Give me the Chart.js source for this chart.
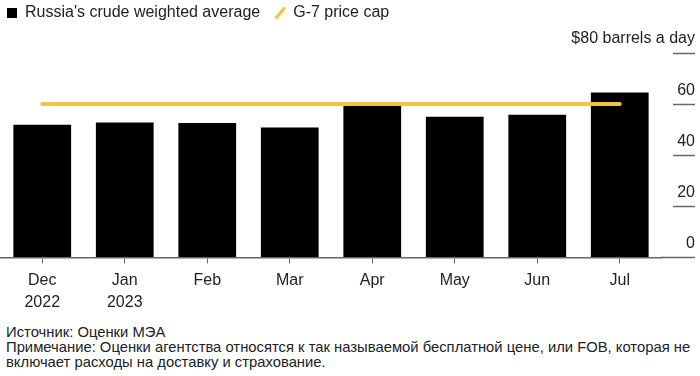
<!DOCTYPE html>
<html>
<head>
<meta charset="utf-8">
<script src="https://cdn.jsdelivr.net/npm/chart.js@4"></script>
<style>
  body { margin: 0; background: #fff; font-family: "Liberation Sans", Arial, sans-serif; color: #222; }
  .wrap { width: 700px; height: 320px; position: relative; }
  .notes { margin: 5px 0 0 6px; font-size: 14.8px; line-height: 15px; color: #222; }
</style>
</head>
<body>
<div class="wrap"><canvas id="chart"></canvas></div>
<div class="notes">
  <div>Источник: Оценки МЭА</div>
  <div>Примечание: Оценки агентства относятся к так называемой бесплатной цене, или FOB, которая не включает расходы на доставку и страхование.</div>
</div>
<script>
const months = [["Dec", "2022"], ["Jan", "2023"], "Feb", "Mar", "Apr", "May", "Jun", "Jul"];
const russiaAvg = [51.9, 52.8, 52.6, 50.8, 59.3, 55.1, 55.8, 64.5];
const priceCap = [60, 60, 60, 60, 60, 60, 60, 60];
const yTicks = [0, 20, 40, 60, 80];
const yTopLabel = "$80 barrels a day";

const capColor = "#f4c33f";
const font = { family: "'Liberation Sans', Arial, sans-serif", size: 16 };

// legend: fixed height so the plot starts lower, and nudged up/left
// (labels.padding is wide to space the two items apart)
const legendTweak = {
  id: "legendTweak",
  beforeInit(chart) {
    const fit = chart.legend.fit;
    chart.legend.fit = function () {
      fit.bind(chart.legend)();
      this.height = 53;
    };
  },
  afterLayout(chart) {
    chart.legend.left -= 9;
    chart.legend.top -= 10;
  },
};

new Chart(document.getElementById("chart"), {
  type: "bar",
  data: {
    labels: months,
    datasets: [
      {
        label: "Russia's crude weighted average",
        data: russiaAvg,
        backgroundColor: "#000",
        borderWidth: 0,
        barPercentage: 0.7,
        categoryPercentage: 1,
        pointStyle: "rect",
        order: 1,
      },
      {
        type: "line",
        label: "G-7 price cap",
        data: priceCap,
        borderColor: capColor,
        borderWidth: 4,
        borderCapStyle: "round",
        pointRadius: 0,
        pointStyle: "line",
        pointRotation: -50,
        pointBorderColor: capColor,
        pointBorderWidth: 3,
        order: 0,
      },
    ],
  },
  options: {
    responsive: true,
    maintainAspectRatio: false,
    animation: false,
    events: [],
    layout: { padding: { left: 1, right: 5, top: 0 } },
    plugins: {
      tooltip: { enabled: false },
      legend: {
        position: "top",
        align: "start",
        labels: {
          usePointStyle: true,
          boxWidth: 10,
          boxHeight: 10,
          padding: 15,
          color: "#222",
          font,
          sort: (a, b) => a.datasetIndex - b.datasetIndex,
        },
      },
    },
    scales: {
      x: {
        border: { display: true, color: "#666", width: 1.5 },
        grid: { drawOnChartArea: false, offset: false, tickLength: 6, tickColor: "#666", tickWidth: 1 },
        ticks: { color: "#222", font: { ...font, lineHeight: 1.33 }, padding: 7, maxRotation: 0, autoSkip: false },
      },
      y: {
        position: "right",
        min: 0,
        max: 80,
        afterFit(scale) { scale.width = 34; },
        afterBuildTicks(scale) { scale.ticks = yTicks.map((v) => ({ value: v })); },
        border: { display: false },
        grid: {
          drawOnChartArea: false,
          tickLength: 34,
          tickColor: "#666",
          tickWidth: 1.5,
          // only the right 22px of each tick shows, except the zero line which runs on from the axis
          tickBorderDash: (ctx) => (ctx.tick && ctx.tick.value === 0 ? [] : [0, 12, 22, 0]),
        },
        ticks: {
          color: "#222",
          font,
          // mirrored so the long top label is not clipped; right-aligned at the canvas edge
          mirror: true,
          crossAlign: "near",
          padding: 34,
          labelOffset: -14,
          callback: (v) => (v === 80 ? yTopLabel : v),
        },
      },
    },
  },
  plugins: [legendTweak],
});
</script>
</body>
</html>
